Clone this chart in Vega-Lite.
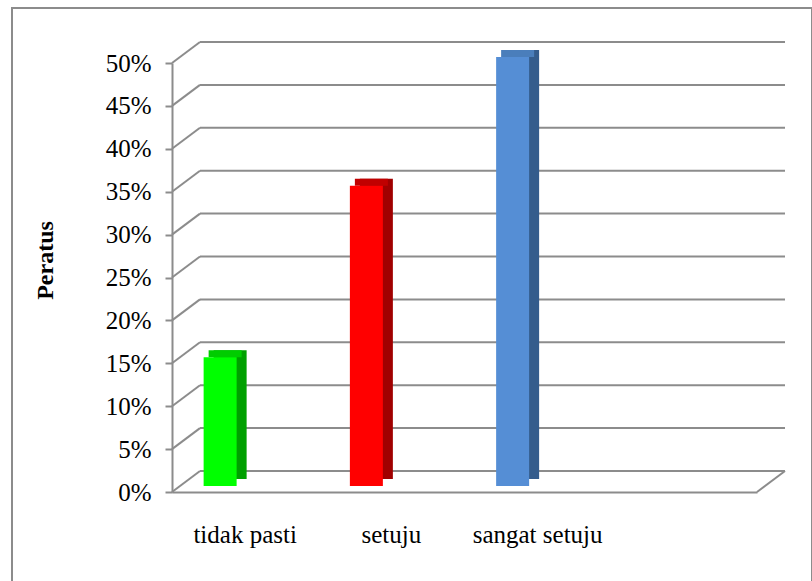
{
  "$schema": "https://vega.github.io/schema/vega-lite/v6.json",
  "width": 800,
  "height": 575,
  "autosize": {"type": "none"},
  "padding": {"left": 12, "top": 8, "right": 0, "bottom": 0},
  "config": {
    "view": {"stroke": "#8c8c8c", "strokeWidth": 2},
    "font": "'Liberation Serif', 'Times New Roman', 'DejaVu Serif', serif"
  },
  "datasets": {
    "bars": [
      {"kategori": "tidak pasti", "peratus": 0.15},
      {"kategori": "setuju", "peratus": 0.35},
      {"kategori": "sangat setuju", "peratus": 0.50}
    ],
    "grid": [
      {"v": 0}, {"v": 0.05}, {"v": 0.1}, {"v": 0.15}, {"v": 0.2}, {"v": 0.25},
      {"v": 0.3}, {"v": 0.35}, {"v": 0.4}, {"v": 0.45}, {"v": 0.5}
    ]
  },
  "layer": [
    {
      "data": {"name": "grid"},
      "mark": {"type": "rule", "color": "#8c8c8c", "strokeWidth": 2, "xOffset": 28, "x2Offset": 28, "yOffset": -21, "y2Offset": -21},
      "encoding": {
        "x": {"datum": 0, "type": "quantitative", "scale": {"domain": [0, 1], "range": [160, 745]}, "axis": null},
        "x2": {"datum": 1},
        "y": {
          "field": "v", "type": "quantitative",
          "scale": {"domain": [0, 0.5], "range": [484, 55], "nice": false, "zero": true},
          "axis": {
            "values": [0, 0.05, 0.1, 0.15, 0.2, 0.25, 0.3, 0.35, 0.4, 0.45, 0.5],
            "format": ".0%",
            "offset": -160,
            "grid": false,
            "domainColor": "#8c8c8c", "domainWidth": 2,
            "tickColor": "#8c8c8c", "tickWidth": 2, "tickSize": 7,
            "labelFont": "'Liberation Serif', 'Times New Roman', 'DejaVu Serif', serif", "labelFontSize": 25, "labelColor": "#000000", "labelPadding": 14,
            "title": "Peratus",
            "titleFont": "'Liberation Serif', 'Times New Roman', 'DejaVu Serif', serif", "titleFontSize": 24, "titleFontWeight": "bold", "titleColor": "#000000",
            "titleAngle": 270, "titleX": -127, "titleY": 252, "titleAlign": "center", "titleBaseline": "middle"
          }
        },
        "y2": {"field": "v"}
      }
    },
    {
      "data": {"name": "grid"},
      "mark": {"type": "rule", "color": "#8c8c8c", "strokeWidth": 2, "x2Offset": 28, "y2Offset": -21},
      "encoding": {
        "x": {"datum": 0, "type": "quantitative", "scale": {"domain": [0, 1], "range": [160, 745]}, "axis": null},
        "x2": {"datum": 0},
        "y": {"field": "v", "type": "quantitative"},
        "y2": {"field": "v"}
      }
    },
    {
      "data": {"values": [{"v": 0}]},
      "mark": {"type": "rule", "color": "#8c8c8c", "strokeWidth": 2, "x2Offset": 28, "y2Offset": -21},
      "encoding": {
        "x": {"datum": 1, "type": "quantitative", "scale": {"domain": [0, 1], "range": [160, 745]}, "axis": null},
        "x2": {"datum": 1},
        "y": {"field": "v", "type": "quantitative"},
        "y2": {"field": "v"}
      }
    },
    {
      "data": {"name": "bars"},
      "mark": {"type": "bar", "width": 33, "xOffset": -15, "yOffset": -13, "y2Offset": -13},
      "encoding": {
        "x": {"field": "kategori", "type": "nominal", "sort": null,
              "scale": {"domain": ["tidak pasti", "setuju", "sangat setuju", " "], "range": [160, 745], "paddingInner": 0, "paddingOuter": 0},
              "axis": null},
        "y": {"field": "peratus", "type": "quantitative"},
        "y2": {"datum": 0},
        "color": {"field": "kategori", "type": "nominal", "legend": null,
                  "scale": {"domain": ["tidak pasti", "setuju", "sangat setuju"], "range": ["#00a000", "#a00000", "#345c8c"]}}
      }
    },
    {
      "data": {"name": "bars"},
      "mark": {"type": "bar", "width": 33, "xOffset": -20, "yOffset": -13, "y2Offset": -6},
      "encoding": {
        "x": {"field": "kategori", "type": "nominal", "sort": null,
              "scale": {"domain": ["tidak pasti", "setuju", "sangat setuju", " "], "range": [160, 745], "paddingInner": 0, "paddingOuter": 0},
              "axis": null},
        "y": {"field": "peratus", "type": "quantitative"},
        "y2": {"field": "peratus"},
        "color": {"field": "kategori", "type": "nominal", "legend": null,
                  "scale": {"domain": ["tidak pasti", "setuju", "sangat setuju"], "range": ["#00cc00", "#c00000", "#4a7ebb"]}}
      }
    },
    {
      "data": {"name": "bars"},
      "mark": {"type": "bar", "width": 33, "xOffset": -25, "yOffset": -6, "y2Offset": -6},
      "encoding": {
        "x": {"field": "kategori", "type": "nominal", "sort": null,
              "scale": {"domain": ["tidak pasti", "setuju", "sangat setuju", " "], "range": [160, 745], "paddingInner": 0, "paddingOuter": 0},
              "axis": {
                "orient": "bottom", "offset": -91, "title": null, "labelAngle": 0,
                "domain": true, "domainColor": "#8c8c8c", "domainWidth": 2,
                "ticks": false, "tickSize": 0, "grid": false,
                "labelFont": "'Liberation Serif', 'Times New Roman', 'DejaVu Serif', serif", "labelFontSize": 25, "labelColor": "#000000",
                "labelBaseline": "alphabetic", "labelPadding": 50
              }},
        "y": {"field": "peratus", "type": "quantitative"},
        "y2": {"datum": 0},
        "color": {"field": "kategori", "type": "nominal", "legend": null,
                  "scale": {"domain": ["tidak pasti", "setuju", "sangat setuju"], "range": ["#00ff00", "#ff0000", "#558ed5"]}}
      }
    }
  ],
  "resolve": {"scale": {"x": "independent", "color": "independent"}}
}
